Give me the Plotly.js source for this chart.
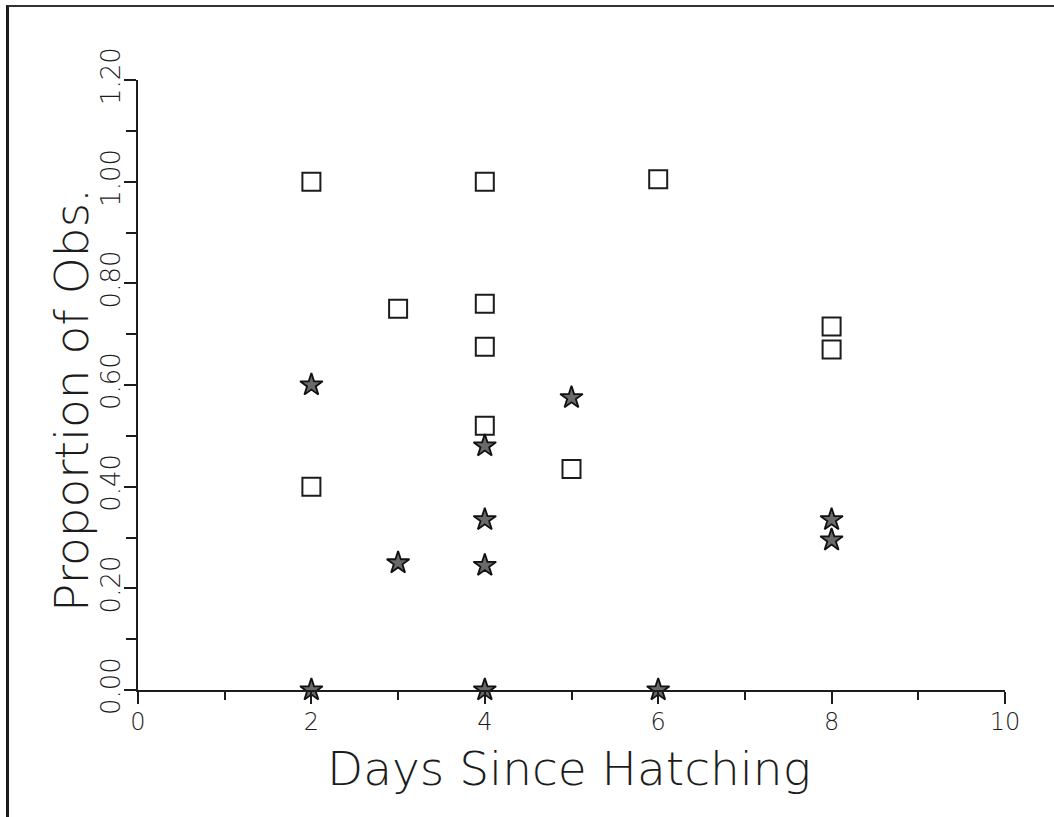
<!DOCTYPE html>
<html>
<head>
<meta charset="utf-8">
<script src="https://cdn.plot.ly/plotly-3.0.1.min.js"></script>
<style>
  html, body { margin: 0; padding: 0; background: #fff; }
  #wrap { position: relative; width: 1054px; height: 817px; overflow: hidden; }
  #chart { position: absolute; left: 0; top: 0; width: 1054px; height: 817px; }
  #frame { position: absolute; left: 6px; top: 5px; right: -5px; bottom: -5px;
           border-left: 3px solid #1a1a1a; border-top: 2px solid #333; pointer-events: none; }
</style>
</head>
<body>
<div id="wrap">
  <div id="chart"></div>
  <div id="frame"></div>
</div>
<script>
// Squares: proportion of observations (series A)
const squareDays = [2, 2, 3, 4, 4, 4, 4, 5, 6, 8, 8];
const squareProp = [1.00, 0.40, 0.75, 1.00, 0.76, 0.675, 0.52, 0.435, 1.005, 0.715, 0.67];

// Stars: proportion of observations (series B)
const starDays = [2, 2, 3, 4, 4, 4, 4, 5, 6, 8, 8];
const starProp = [0.60, 0.00, 0.25, 0.48, 0.335, 0.245, 0.00, 0.575, 0.00, 0.335, 0.295];

const xTickVals = [0, 2, 4, 6, 8, 10];
const xTickText = ["0", "2", "4", "6", "8", "10"];
const yTickVals = [0, 0.2, 0.4, 0.6, 0.8, 1.0, 1.2];
const yTickText = ["0.00", "0.20", "0.40", "0.60", "0.80", "1.00", "1.20"];

const xTitle = "Days Since Hatching";
const yTitle = "Proportion of Obs.";

const FONT = "DejaVu Sans, Liberation Sans, sans-serif";
const INK = "#1c1c1c";

const traces = [
  {
    x: squareDays, y: squareProp, type: "scatter", mode: "markers",
    cliponaxis: false, showlegend: false, hoverinfo: "x+y",
    marker: { symbol: "square-open", size: 18, color: INK, line: { color: INK, width: 2 } }
  },
  {
    x: starDays, y: starProp, type: "scatter", mode: "markers",
    cliponaxis: false, showlegend: false, hoverinfo: "x+y",
    marker: { symbol: "star", size: 17, color: "#6a6a6a", line: { color: "#111", width: 1.8 } }
  }
];

const layout = {
  width: 1054, height: 817,
  paper_bgcolor: "rgba(0,0,0,0)", plot_bgcolor: "rgba(0,0,0,0)",
  margin: { l: 138, r: 49, t: 80, b: 127, pad: 0 },
  font: { family: FONT, color: INK },
  xaxis: {
    range: [0, 10], tickmode: "array", tickvals: xTickVals, ticktext: xTickText,
    showgrid: false, zeroline: false, showline: true, linecolor: INK, linewidth: 2,
    ticks: "outside", ticklen: 12, tickwidth: 2, tickcolor: INK,
    ticklabelstandoff: -3,
    minor: { dtick: 1, tick0: 0, ticks: "outside", ticklen: 8, tickwidth: 2, tickcolor: INK, showgrid: false },
    tickfont: { family: FONT, size: 24, color: INK, weight: 300 },
    fixedrange: true
  },
  yaxis: {
    range: [0, 1.2], tickmode: "array", tickvals: yTickVals, ticktext: yTickText,
    showgrid: false, zeroline: false, showline: true, linecolor: INK, linewidth: 2,
    ticks: "outside", ticklen: 12, tickwidth: 2, tickcolor: INK, tickangle: -90,
    ticklabelstandoff: -6,
    minor: { dtick: 0.1, tick0: 0, ticks: "outside", ticklen: 10, tickwidth: 2, tickcolor: INK, showgrid: false },
    tickfont: { family: FONT, size: 26, color: INK, weight: 300 },
    fixedrange: true
  },
  annotations: [
    {
      text: yTitle, xref: "paper", yref: "paper", x: -0.077, y: 0.476,
      xanchor: "center", yanchor: "middle", textangle: -90, showarrow: false,
      font: { family: FONT, size: 47, color: INK, weight: 300 }
    },
    {
      text: xTitle, xref: "paper", yref: "paper", x: 0.497, y: -0.08,
      xanchor: "center", yanchor: "top", showarrow: false,
      font: { family: FONT, size: 47, color: INK, weight: 300 }
    }
  ]
};

Plotly.newPlot("chart", traces, layout, { staticPlot: true, displayModeBar: false });
</script>
</body>
</html>
